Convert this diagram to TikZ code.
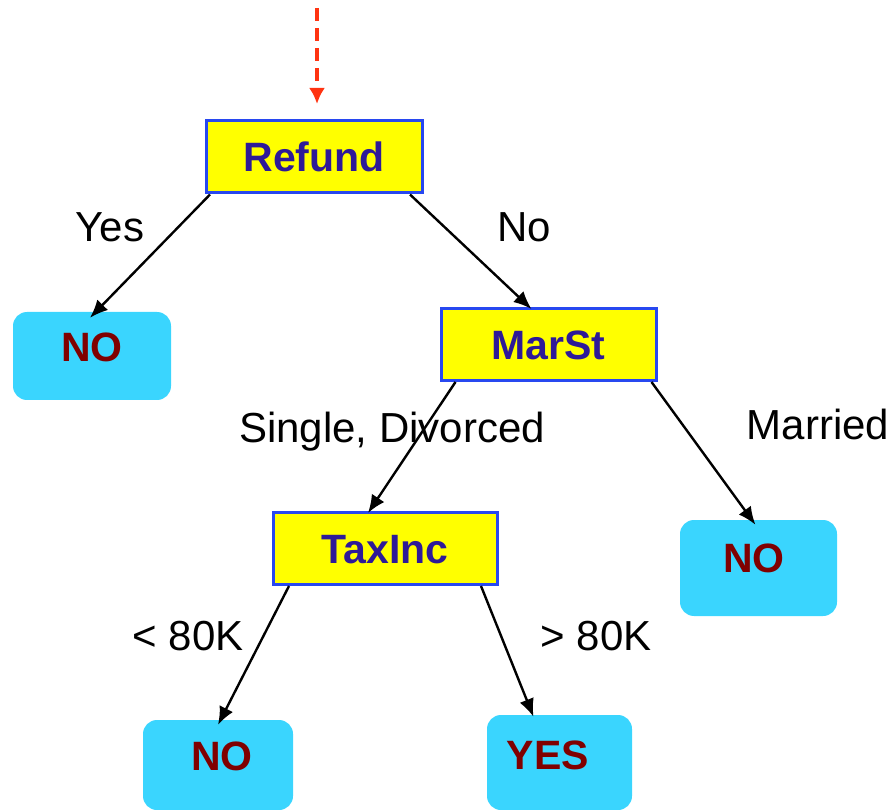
\documentclass[tikz,border=0pt]{standalone}
\usepackage{fontspec}
\setmainfont{Liberation Sans}
\usetikzlibrary{arrows.meta}
\definecolor{boxyellow}{HTML}{FFFF00}
\definecolor{boxblue}{HTML}{2848F0}
\definecolor{attrtext}{HTML}{2E1A98}
\definecolor{leafcyan}{HTML}{3AD5FE}
\definecolor{leaftext}{HTML}{800000}
\definecolor{startred}{HTML}{FF3311}
\tikzset{
  attrbox/.style={draw=boxblue, line width=3pt, fill=boxyellow, rectangle,
    inner sep=0pt, text height=30pt, text depth=0pt, minimum height=72pt,
    font=\fontsize{41}{48}\selectfont\bfseries, text=attrtext},
  leafbox/.style={fill=leafcyan, rectangle, rounded corners=14pt, inner sep=0pt,
    text height=30pt, text depth=18pt,
    font=\fontsize{41}{48}\selectfont\bfseries, text=leaftext},
  edgelabel/.style={font=\fontsize{42}{48}\selectfont, inner sep=0pt},
  treeedge/.style={draw=black, line width=2.4pt, -{Latex[length=18pt,width=15pt]}},
  startedge/.style={draw=startred, line width=4pt, dash pattern=on 13pt off 7pt,
    -{Latex[length=16pt,width=16pt]}}
}
\begin{document}
\begin{tikzpicture}[x=1pt,y=-1pt]
\useasboundingbox (0,0) rectangle (895,810);
% decision nodes
\node[attrbox, minimum width=216pt] (refund) at (314,157) {Refund};
\node[attrbox, minimum width=215pt] (marst) at (548.5,344.5) {MarSt};
\node[attrbox, minimum width=224pt] (taxinc) at (385,548.5) {TaxInc};
% leaves
\node[leafbox, minimum width=158pt, minimum height=88pt, text depth=18pt] (no1) at (92,356) {NO};
\node[leafbox, minimum width=157pt, minimum height=96pt, text depth=22pt] (no2) at (758.5,568) {\hspace*{-9pt}NO};
\node[leafbox, minimum width=150pt, minimum height=90pt, text depth=20pt] (no3) at (218,765) {\hspace*{8pt}NO};
\node[leafbox, minimum width=145pt, minimum height=95pt, text depth=17pt] (yes) at (559.5,762.5) {\hspace*{-23pt}YES};
% start arrow
\coordinate (start) at (317,8);
\coordinate (tip) at (317,104);
\draw[startedge] (start) -- (tip);
% edges
\draw[treeedge] ([xshift=-104pt]refund.south) -- ([xshift=-2pt,yshift=-6pt]no1.north);
\draw[treeedge] ([xshift=96pt]refund.south) -- ([xshift=-17pt,yshift=-2pt]marst.north);
\draw[treeedge] ([xshift=-93pt]marst.south) -- ([xshift=-17pt,yshift=-2pt]taxinc.north);
\draw[treeedge] ([xshift=103pt]marst.south) -- ([xshift=-3pt,yshift=-5pt]no2.north);
\draw[treeedge] ([xshift=-96pt]taxinc.south) -- ([xshift=0pt,yshift=-5pt]no3.north);
\draw[treeedge] ([xshift=96pt]taxinc.south) -- ([xshift=-26pt,yshift=-2pt]yes.north);
% edge labels
\node[edgelabel] (lyes) at (110,227) {Yes};
\node[edgelabel] (lno) at (524,227) {No};
\node[edgelabel] (lsingle) at (392,432) {Single, Divorced};
\node[edgelabel] (lmarried) at (818,424) {Married};
\node[edgelabel] (llt) at (188,636) {< 80K};
\node[edgelabel] (lgt) at (596,636) {> 80K};
\end{tikzpicture}
\end{document}
